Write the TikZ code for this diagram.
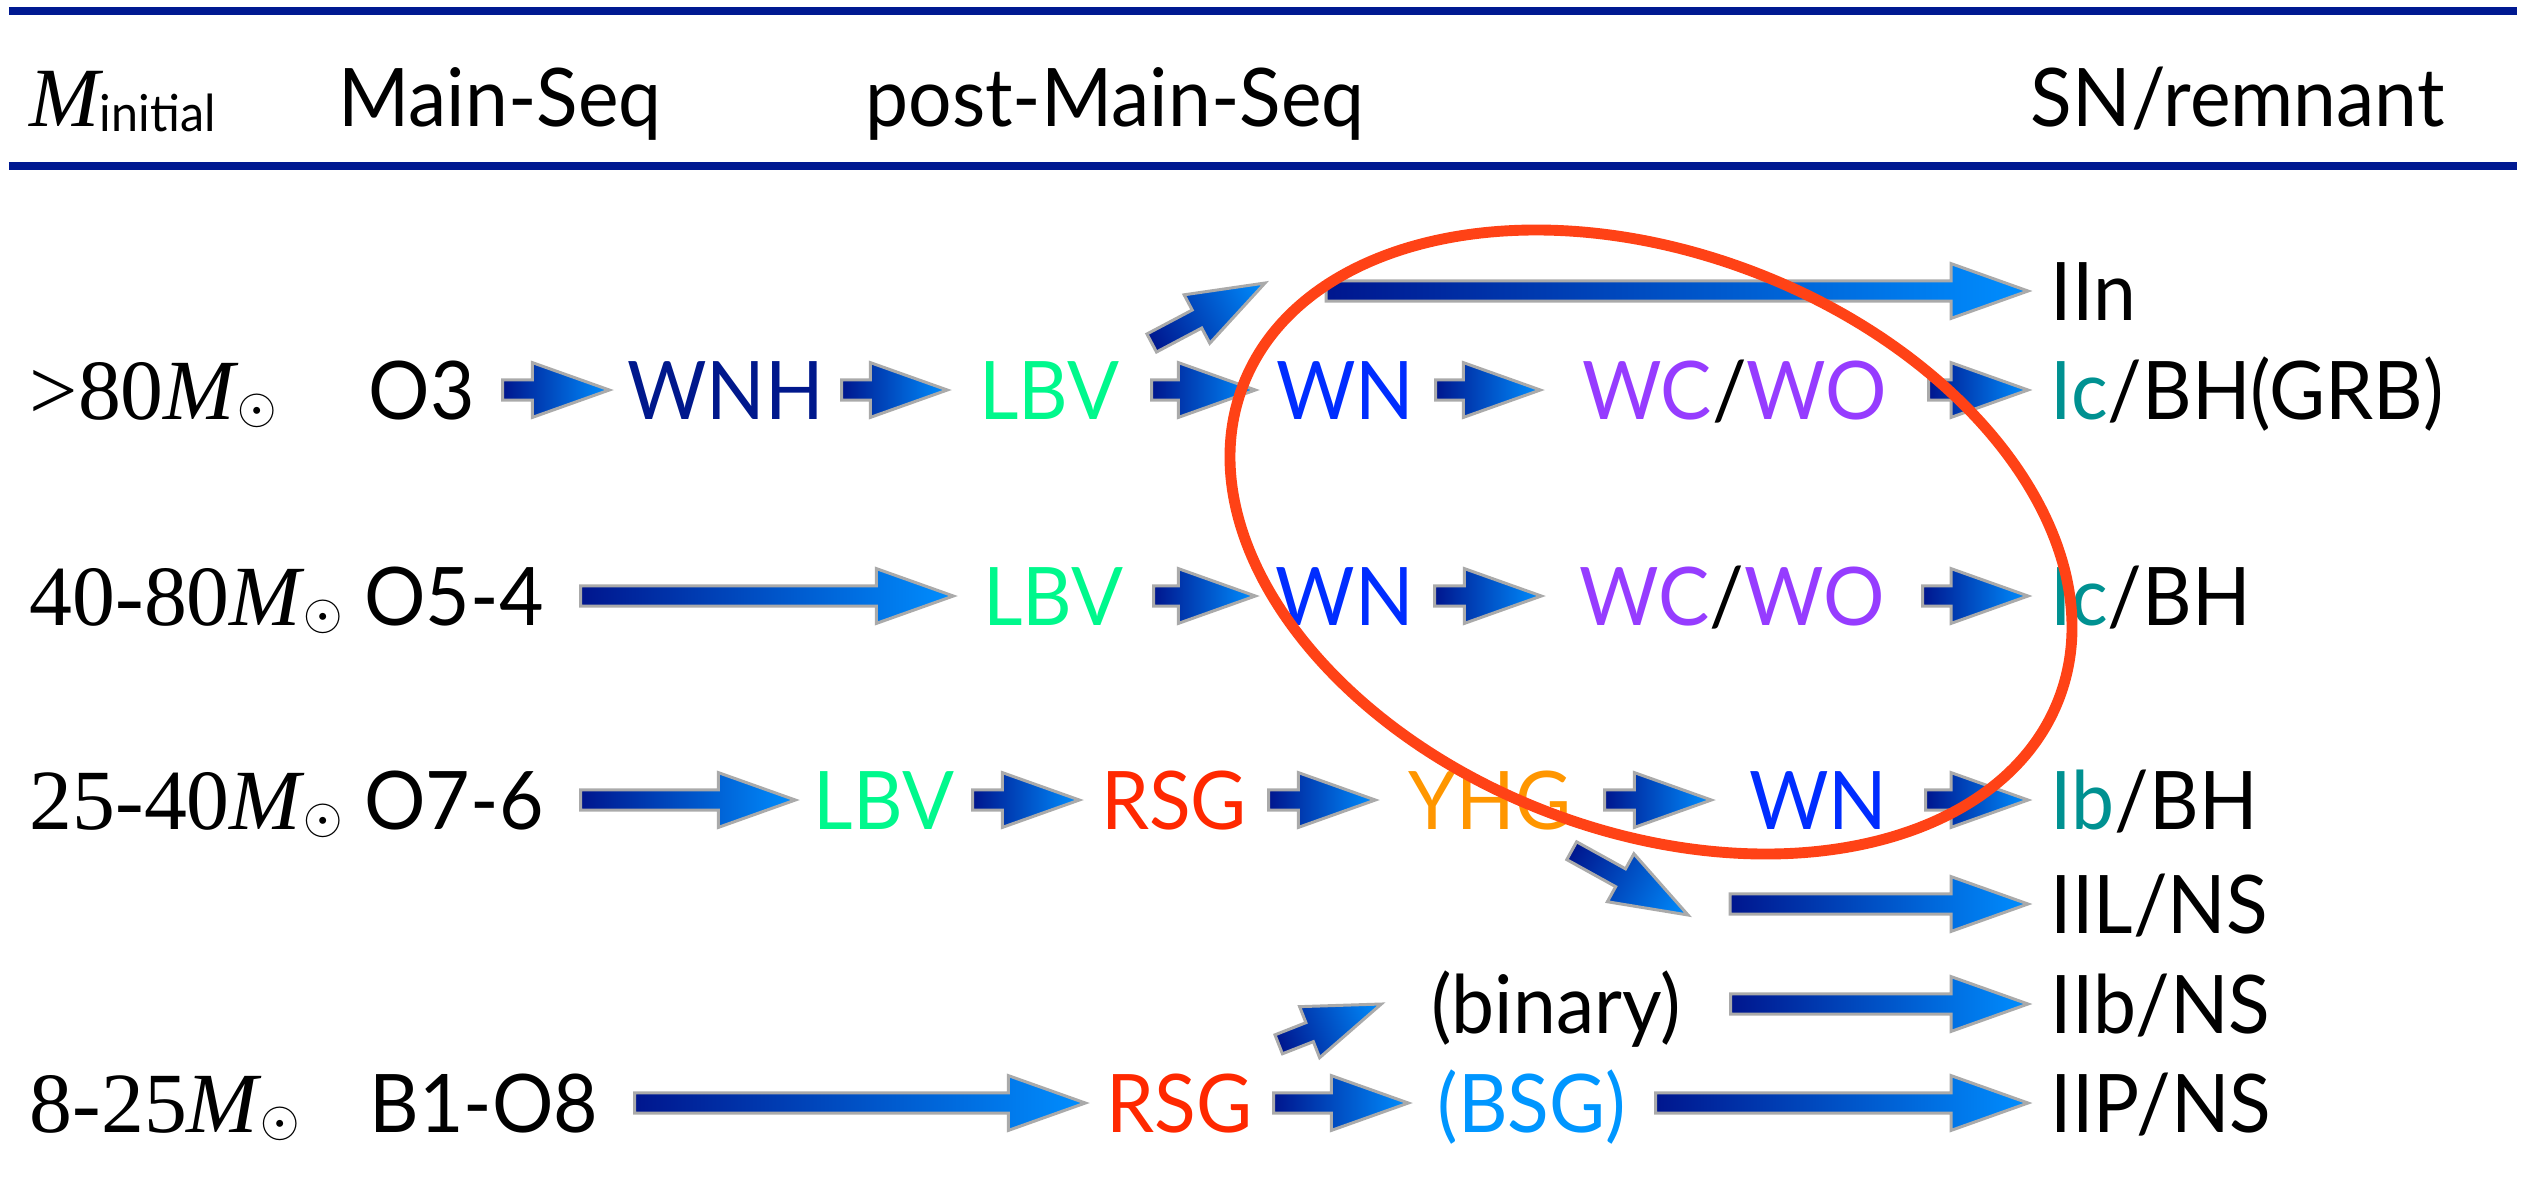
\documentclass[tikz,border=0pt]{standalone}
\usepackage{fontspec}
\setmainfont{Lato}[FakeStretch=0.95]
\newfontfamily\timesfont{Liberation Serif}

\definecolor{rulenavy}{RGB}{0,25,145}
\definecolor{evodark}{RGB}{0,22,142}
\definecolor{evolight}{RGB}{0,142,255}
\definecolor{evoedge}{RGB}{170,170,170}
\definecolor{wnhcol}{RGB}{0,24,140}
\definecolor{lbvcol}{RGB}{0,248,140}
\definecolor{wncol}{RGB}{0,45,255}
\definecolor{wccol}{RGB}{150,60,255}
\definecolor{iccol}{RGB}{0,145,145}
\definecolor{rsgcol}{RGB}{255,40,0}
\definecolor{yhgcol}{RGB}{255,150,0}
\definecolor{bsgcol}{RGB}{0,150,255}
\definecolor{ringcol}{RGB}{255,66,22}

\tikzset{
  topline/.style={line width=2.3pt, rulenavy},
  colhead/.style={inner sep=0pt, text height=16.5pt, text depth=0pt,
    font=\fontsize{23}{23}\selectfont},
  mass/.style={anchor=west, inner sep=0pt, text height=16.5pt, text depth=0pt,
    font=\timesfont\fontsize{24.4}{24.4}\selectfont},
  stage/.style={inner sep=0pt, text height=16.5pt, text depth=0pt,
    font=\fontsize{23}{23}\selectfont},
  remnant/.style={anchor=west, inner xsep=0.22cm, inner ysep=0pt,
    text height=16.5pt, text depth=0pt, font=\fontsize{23}{23}\selectfont},
  evoarrow/.style={left color=evodark, right color=evolight,
    draw=evoedge, line width=0.85pt},
  ring/.style={ringcol, line width=3.1pt}
}

% mass of the sun
\newcommand{\msun}{\textit{M}\kern-0.5pt\raisebox{-1.2pt}{\fontsize{14}{14}\selectfont$\odot$}}

% block arrow from one point to another
\newcommand{\evo}[2]{%
  \path (#1) coordinate (fa) (#2) coordinate (fb);
  \pgfpointdiff{\pgfpointanchor{fa}{center}}{\pgfpointanchor{fb}{center}}%
  \pgfgetlastxy{\fdx}{\fdy}%
  \pgfmathsetmacro{\flen}{veclen(\fdx,\fdy)}%
  \pgfmathsetmacro{\fang}{atan2(\fdy,\fdx)}%
  \pgfmathsetmacro{\fneck}{\flen-21.9}%
  \begin{scope}[transform canvas={shift={(fa)}, rotate=\fang}]
    \shadedraw[evoarrow] (0pt,-2.9pt) -- (\fneck pt,-2.9pt) -- (\fneck pt,-7.8pt)
      -- (\flen pt,0pt) -- (\fneck pt,7.8pt) -- (\fneck pt,2.9pt) -- (0pt,2.9pt) -- cycle;
  \end{scope}}

\begin{document}
\begin{tikzpicture}[x=1cm, y=-1cm]
\useasboundingbox (0,0) rectangle (25.25,11.86);

% Draw header rules
\draw[topline] (0.09,0.11) -- (25.17,0.11);
\draw[topline] (0.09,1.66) -- (25.17,1.66);

% Column heads
\node[colhead, anchor=west] (minit) at (0.29,0.97)
  {{\timesfont\fontsize{24}{24}\selectfont\itshape M}\raisebox{-1.7pt}{\fontsize{14.5}{14.5}\selectfont initial}};
\node[colhead] (mainseq) at (5.00,0.97) {Main-Seq};
\node[colhead] (postms) at (11.15,0.97) {post-Main-Seq};
\node[colhead, anchor=west] (snrem) at (20.30,0.97) {SN/remnant};

% Mass labels
\node[mass] (m80) at (0.29,3.90) {>80\msun};
\node[mass] (m4080) at (0.29,5.96) {40-80\msun};
\node[mass] (m2540) at (0.29,8.00) {25-40\msun};
\node[mass] (m825) at (0.29,11.03) {8-25\msun};

% >80 Msun
\node[stage, minimum width=1.60cm] (o3) at (4.22,3.90) {O3};
\node[stage, minimum width=2.31cm, text=wnhcol] (wnh) at (7.255,3.90) {WNH};
\node[stage, minimum width=2.03cm, text=lbvcol] (lbv2) at (10.495,3.90) {LBV};
\node[stage, minimum width=1.79cm, text=wncol] (wn2) at (13.455,3.90) {WN};
\node[stage, minimum width=3.87cm, text=wccol] (wcwo2) at (17.345,3.90) {WC{\color{black}/}WO};
\node[remnant] (ic2) at (20.28,3.90) {{\color{iccol}Ic}/BH(GRB)};
\node[remnant] (iin) at (20.28,2.91) {IIn};
\coordinate (nfork) at (12.65,2.83);
\coordinate (nstart) at (13.26,2.91);

% 40-80 Msun
\node[stage, minimum width=2.52cm] (o54) at (4.54,5.96) {O5-4};
\node[stage, minimum width=1.99cm, text=lbvcol] (lbv3) at (10.535,5.96) {LBV};
\node[stage, minimum width=1.78cm, text=wncol] (wn3) at (13.45,5.96) {WN};
\node[stage, minimum width=3.80cm, text=wccol] (wcwo3) at (17.32,5.96) {WC{\color{black}/}WO};
\node[remnant] (ic3) at (20.28,5.96) {{\color{iccol}Ic}/BH};

% 25-40 Msun
\node[stage, minimum width=2.52cm] (o76) at (4.54,8.00) {O7-6};
\node[stage, minimum width=1.76cm, text=lbvcol] (lbv4) at (8.84,8.00) {LBV};
\node[stage, minimum width=1.88cm, text=rsgcol] (rsg4) at (11.74,8.00) {RSG};
\node[stage, minimum width=2.28cm, text=yhgcol] (yhg) at (14.90,8.00) {YHG};
\node[stage, minimum width=2.13cm, text=wncol] (wn4) at (18.185,8.00) {WN};
\node[remnant] (ib4) at (20.28,8.00) {{\color{iccol}Ib}/BH};
\node[remnant] (iil) at (20.28,9.04) {IIL/NS};
\coordinate (lfork) at (16.88,9.15);
\coordinate (lstart) at (17.30,9.04);

% 8-25 Msun
\node[stage, minimum width=3.00cm] (b1o8) at (4.84,11.03) {B1-O8};
\node[stage, minimum width=1.87cm, text=rsgcol] (rsg7) at (11.795,11.03) {RSG};
\node[stage, minimum width=2.46cm, text=bsgcol] (bsg) at (15.32,11.03) {(BSG)};
\node[stage, minimum width=3.48cm] (binary) at (15.56,10.04) {(binary)};
\node[remnant] (iib) at (20.28,10.04) {IIb/NS};
\node[remnant] (iip) at (20.28,11.03) {IIP/NS};

% Draw arrows
\evo{o3.east}{wnh.west}
\evo{wnh.east}{lbv2.west}
\evo{lbv2.east}{wn2.west}
\evo{wn2.east}{wcwo2.west}
\evo{wcwo2.east}{ic2.west}
\evo{[shift={(0,-0.47)}]lbv2.east}{nfork}
\evo{nstart}{iin.west}

\evo{o54.east}{lbv3.west}
\evo{lbv3.east}{wn3.west}
\evo{wn3.east}{wcwo3.west}
\evo{wcwo3.east}{ic3.west}

\evo{o76.east}{lbv4.west}
\evo{lbv4.east}{rsg4.west}
\evo{rsg4.east}{yhg.west}
\evo{yhg.east}{wn4.west}
\evo{wn4.east}{ib4.west}
\evo{[shift={(-0.33,0.21)}]yhg.south east}{lfork}
\evo{lstart}{iil.west}

\evo{b1o8.east}{rsg7.west}
\evo{rsg7.east}{bsg.west}
\evo{bsg.east}{iip.west}
\evo{[shift={(0.05,-0.29)}]rsg7.north east}{binary.west}
\evo{binary.east}{iib.west}

% Draw ring round the Wolf-Rayet stages
\draw[ring, rotate around={-21:(16.51,5.42)}] (16.51,5.42) ellipse (4.37cm and 2.89cm);
\end{tikzpicture}
\end{document}
